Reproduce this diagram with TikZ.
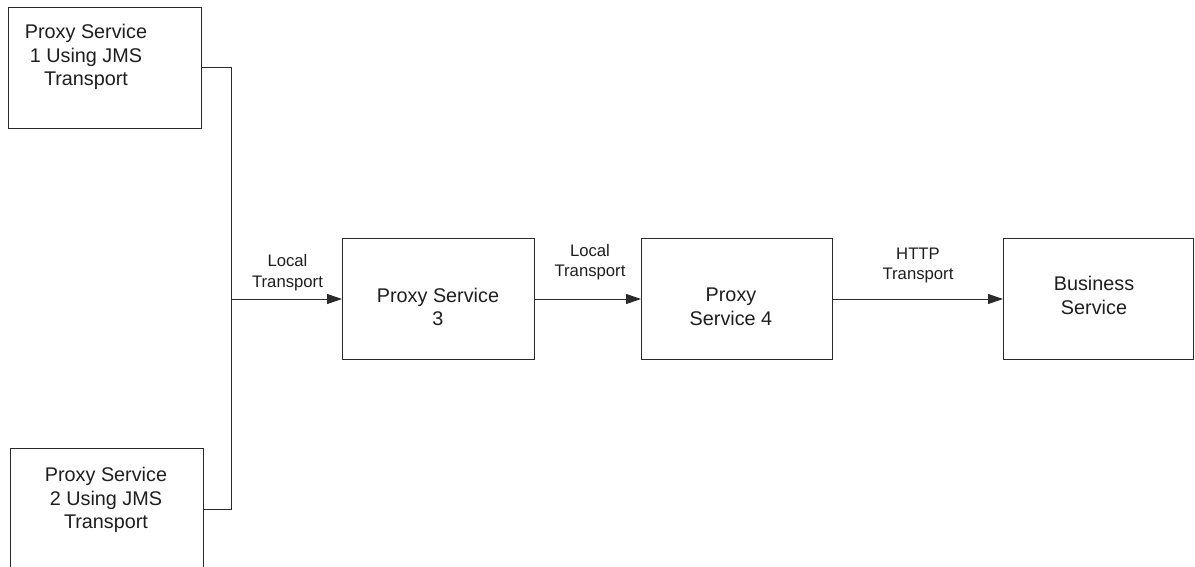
\documentclass[tikz,border=0pt]{standalone}
\usepackage{fontspec}
\setmainfont{Liberation Sans}
\usetikzlibrary{arrows.meta}
\definecolor{ln}{HTML}{2A2A2A}
\definecolor{tx}{HTML}{1E1E1E}
\tikzset{
  x=1pt, y=-1pt,
  boxn/.style={draw=ln, line width=1pt, minimum width=#1, minimum height=121pt, inner sep=0pt, anchor=north west},
  boxn/.default=193pt,
  boxtext/.style={text=tx, align=center, font=\fontsize{19.8}{23.5}\selectfont, inner sep=0pt},
  lbl/.style={text=tx, align=center, font=\fontsize{16.7}{20.5}\selectfont, inner sep=0pt},
  conn/.style={draw=ln, line width=1pt},
  arr/.style={conn, -{Triangle[length=15pt, width=10pt]}}
}
\begin{document}
\begin{tikzpicture}
\useasboundingbox (0,0) rectangle (1195,567);
\clip (0,0) rectangle (1195,567);
\node[boxn] (b1) at (8,7) {};
\node[boxn] (b2) at (10,448) {};
\node[boxn=192pt] (b3) at (342,238) {};
\node[boxn=191pt] (b4) at (641,238) {};
\node[boxn=190pt] (b5) at (1003,238) {};
\node[boxtext] (t1) at (86,57) {Proxy Service\\1 Using JMS\\Transport};
\node[boxtext] (t2) at (106,500) {Proxy Service\\2 Using JMS\\Transport};
\node[boxtext] (t3) at (438,307) {Proxy Service\\3};
\node[boxtext] (t4) at (731,307) {Proxy\\Service 4};
\node[boxtext] (t5) at (1094,295.5) {Business\\Service};
\coordinate (j) at (231,299);
\draw[conn] (b1.east) -| (j);
\draw[conn] (b2.east) -| (j);
\draw[arr] (j) -- (b3.west);
\draw[arr] (b3.east) -- (b4.west);
\draw[arr] (b4.east) -- (b5.west);
\node[lbl] (l1) at (287.5,272.5) {Local\\Transport};
\node[lbl] (l2) at (590,262) {Local\\Transport};
\node[lbl] (l3) at (918,265.5) {HTTP\\Transport};
\end{tikzpicture}
\end{document}
